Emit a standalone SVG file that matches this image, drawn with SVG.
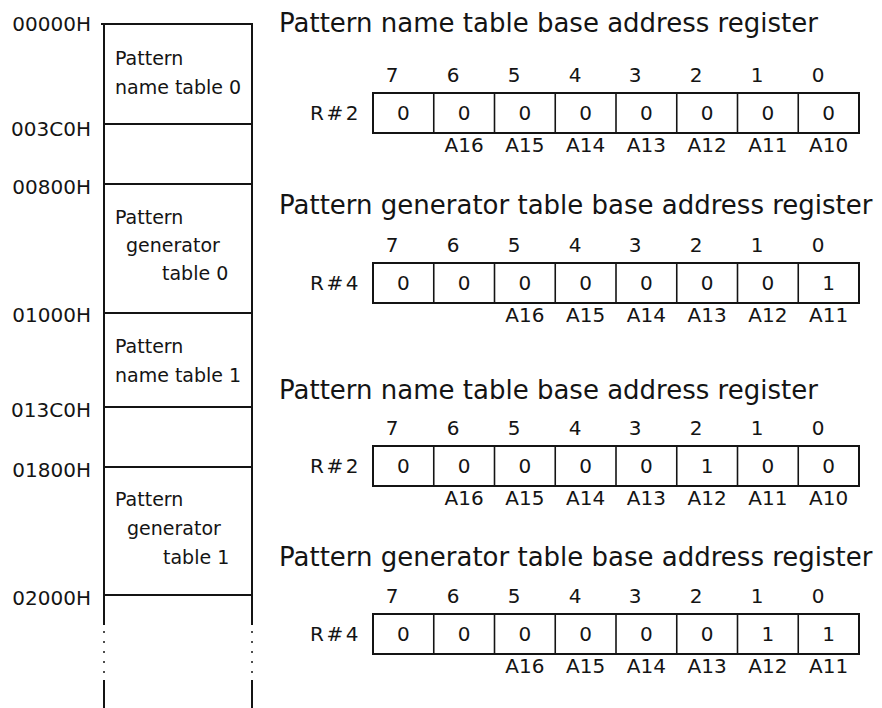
<svg xmlns="http://www.w3.org/2000/svg" width="882" height="708" viewBox="0 0 882 708">
<style>
  text { font-family: "DejaVu Sans", "Liberation Sans", sans-serif; fill: #141414; }
  .addr { font-size: 20px; text-anchor: end; }
  .mem { font-size: 19px; }
  .title { font-size: 26px; }
  .bit { font-size: 20px; text-anchor: middle; }
  .val { font-size: 20px; text-anchor: middle; }
  .a { font-size: 20px; text-anchor: middle; }
  .reg { font-size: 20px; text-anchor: end; letter-spacing: 2.5px; }
  .ln { stroke: #141414; stroke-width: 2; fill: none; }
  .dot { stroke: #141414; stroke-width: 1.5; fill: none; stroke-dasharray: 2 8; }
  .box { stroke: #141414; stroke-width: 2; fill: #fff; }
  .div { stroke: #141414; stroke-width: 1.6; }
</style>
<defs>
  <g id="cells">
    <rect class="box" x="373" y="0" width="486" height="40"/>
    <line class="div" x1="433.75" y1="0" x2="433.75" y2="40"/>
    <line class="div" x1="494.5" y1="0" x2="494.5" y2="40"/>
    <line class="div" x1="555.25" y1="0" x2="555.25" y2="40"/>
    <line class="div" x1="616" y1="0" x2="616" y2="40"/>
    <line class="div" x1="676.75" y1="0" x2="676.75" y2="40"/>
    <line class="div" x1="737.5" y1="0" x2="737.5" y2="40"/>
    <line class="div" x1="798.25" y1="0" x2="798.25" y2="40"/>
    <text class="bit" x="392" y="-11">7</text>
    <text class="bit" x="453" y="-11">6</text>
    <text class="bit" x="514" y="-11">5</text>
    <text class="bit" x="575" y="-11">4</text>
    <text class="bit" x="635" y="-11">3</text>
    <text class="bit" x="696" y="-11">2</text>
    <text class="bit" x="757" y="-11">1</text>
    <text class="bit" x="818" y="-11">0</text>
  </g>
</defs>

<g id="memory-frame">
  <line class="ln" x1="101" y1="24" x2="253" y2="24"/>
  <line class="ln" x1="104" y1="124" x2="252" y2="124"/>
  <line class="ln" x1="104" y1="184" x2="252" y2="184"/>
  <line class="ln" x1="104" y1="313" x2="252" y2="313"/>
  <line class="ln" x1="104" y1="407" x2="252" y2="407"/>
  <line class="ln" x1="104" y1="467" x2="252" y2="467"/>
  <line class="ln" x1="104" y1="595" x2="252" y2="595"/>
  <line class="ln" x1="104" y1="23" x2="104" y2="625"/>
  <line class="ln" x1="252" y1="23" x2="252" y2="625"/>
  <line class="dot" x1="104" y1="631" x2="104" y2="676"/>
  <line class="dot" x1="252" y1="631" x2="252" y2="676"/>
  <line class="ln" x1="104" y1="680" x2="104" y2="708"/>
  <line class="ln" x1="252" y1="680" x2="252" y2="708"/>
</g>

<g id="addresses">
  <text class="addr" x="91" y="31">00000H</text>
  <text class="addr" x="91" y="136">003C0H</text>
  <text class="addr" x="91" y="194">00800H</text>
  <text class="addr" x="91" y="322">01000H</text>
  <text class="addr" x="91" y="417">013C0H</text>
  <text class="addr" x="91" y="477">01800H</text>
  <text class="addr" x="91" y="605">02000H</text>
</g>

<g id="pnt0">
  <text class="mem" x="115" y="65">Pattern</text>
  <text class="mem" x="115" y="94">name table 0</text>
</g>
<g id="pgt0">
  <text class="mem" x="115" y="224">Pattern</text>
  <text class="mem" x="126" y="252">generator</text>
  <text class="mem" x="162" y="280">table 0</text>
</g>
<g id="pnt1">
  <text class="mem" x="115" y="353">Pattern</text>
  <text class="mem" x="115" y="382">name table 1</text>
</g>
<g id="pgt1">
  <text class="mem" x="115" y="506">Pattern</text>
  <text class="mem" x="127" y="535">generator</text>
  <text class="mem" x="163" y="564">table 1</text>
</g>

<g id="reg1">
  <text class="title" x="279" y="32">Pattern name table base address register</text>
  <g transform="translate(0,93)">
    <use href="#cells"/>
    <text class="reg" x="361" y="27">R#2</text>
    <text class="val" x="403.4" y="27">0</text>
    <text class="val" x="464.1" y="27">0</text>
    <text class="val" x="524.9" y="27">0</text>
    <text class="val" x="585.6" y="27">0</text>
    <text class="val" x="646.4" y="27">0</text>
    <text class="val" x="707.1" y="27">0</text>
    <text class="val" x="767.9" y="27">0</text>
    <text class="val" x="828.6" y="27">0</text>
    <text class="a" x="464.1" y="59">A16</text>
    <text class="a" x="524.9" y="59">A15</text>
    <text class="a" x="585.6" y="59">A14</text>
    <text class="a" x="646.4" y="59">A13</text>
    <text class="a" x="707.1" y="59">A12</text>
    <text class="a" x="767.9" y="59">A11</text>
    <text class="a" x="828.6" y="59">A10</text>
  </g>
</g>

<g id="reg2">
  <text class="title" x="279" y="214">Pattern generator table base address register</text>
  <g transform="translate(0,263)">
    <use href="#cells"/>
    <text class="reg" x="361" y="27">R#4</text>
    <text class="val" x="403.4" y="27">0</text>
    <text class="val" x="464.1" y="27">0</text>
    <text class="val" x="524.9" y="27">0</text>
    <text class="val" x="585.6" y="27">0</text>
    <text class="val" x="646.4" y="27">0</text>
    <text class="val" x="707.1" y="27">0</text>
    <text class="val" x="767.9" y="27">0</text>
    <text class="val" x="828.6" y="27">1</text>
    <text class="a" x="524.9" y="59">A16</text>
    <text class="a" x="585.6" y="59">A15</text>
    <text class="a" x="646.4" y="59">A14</text>
    <text class="a" x="707.1" y="59">A13</text>
    <text class="a" x="767.9" y="59">A12</text>
    <text class="a" x="828.6" y="59">A11</text>
  </g>
</g>

<g id="reg3">
  <text class="title" x="279" y="399">Pattern name table base address register</text>
  <g transform="translate(0,446)">
    <use href="#cells"/>
    <text class="reg" x="361" y="27">R#2</text>
    <text class="val" x="403.4" y="27">0</text>
    <text class="val" x="464.1" y="27">0</text>
    <text class="val" x="524.9" y="27">0</text>
    <text class="val" x="585.6" y="27">0</text>
    <text class="val" x="646.4" y="27">0</text>
    <text class="val" x="707.1" y="27">1</text>
    <text class="val" x="767.9" y="27">0</text>
    <text class="val" x="828.6" y="27">0</text>
    <text class="a" x="464.1" y="59">A16</text>
    <text class="a" x="524.9" y="59">A15</text>
    <text class="a" x="585.6" y="59">A14</text>
    <text class="a" x="646.4" y="59">A13</text>
    <text class="a" x="707.1" y="59">A12</text>
    <text class="a" x="767.9" y="59">A11</text>
    <text class="a" x="828.6" y="59">A10</text>
  </g>
</g>

<g id="reg4">
  <text class="title" x="279" y="566">Pattern generator table base address register</text>
  <g transform="translate(0,614)">
    <use href="#cells"/>
    <text class="reg" x="361" y="27">R#4</text>
    <text class="val" x="403.4" y="27">0</text>
    <text class="val" x="464.1" y="27">0</text>
    <text class="val" x="524.9" y="27">0</text>
    <text class="val" x="585.6" y="27">0</text>
    <text class="val" x="646.4" y="27">0</text>
    <text class="val" x="707.1" y="27">0</text>
    <text class="val" x="767.9" y="27">1</text>
    <text class="val" x="828.6" y="27">1</text>
    <text class="a" x="524.9" y="59">A16</text>
    <text class="a" x="585.6" y="59">A15</text>
    <text class="a" x="646.4" y="59">A14</text>
    <text class="a" x="707.1" y="59">A13</text>
    <text class="a" x="767.9" y="59">A12</text>
    <text class="a" x="828.6" y="59">A11</text>
  </g>
</g>
</svg>
